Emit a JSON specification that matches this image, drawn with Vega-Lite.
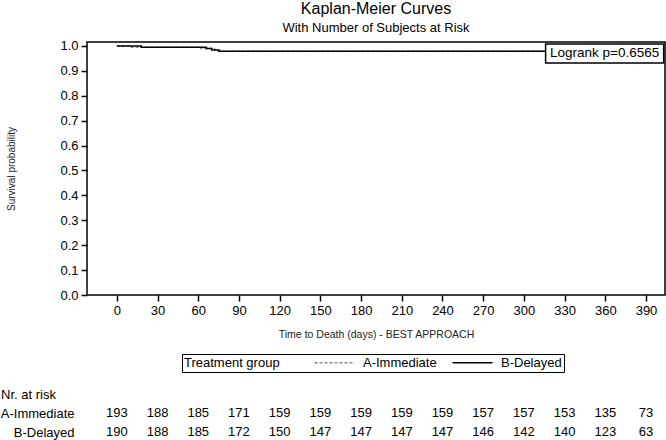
{
  "$schema": "https://vega.github.io/schema/vega-lite/v6.json",
  "background": "white",
  "padding": 0,
  "bounds": "flush",
  "spacing": 108.5,
  "config": {
    "font": "Liberation Sans",
    "view": {"stroke": "black", "strokeWidth": 1.5},
    "axis": {"labelFont": "Liberation Sans", "titleFont": "Liberation Sans", "labelColor": "black", "tickColor": "black"}
  },
  "datasets": {
    "km": [
      {"group": "A-Immediate", "day": 0, "surv": 1.0},
      {"group": "A-Immediate", "day": 9, "surv": 0.9948},
      {"group": "A-Immediate", "day": 62, "surv": 0.9896},
      {"group": "A-Immediate", "day": 72, "surv": 0.9843},
      {"group": "A-Immediate", "day": 76, "surv": 0.979},
      {"group": "A-Immediate", "day": 402, "surv": 0.979},
      {"group": "B-Delayed", "day": 0, "surv": 1.0},
      {"group": "B-Delayed", "day": 18, "surv": 0.9947},
      {"group": "B-Delayed", "day": 66, "surv": 0.9895},
      {"group": "B-Delayed", "day": 70, "surv": 0.9842},
      {"group": "B-Delayed", "day": 75, "surv": 0.979},
      {"group": "B-Delayed", "day": 402, "surv": 0.979}
    ],
    "risk": [
      {"group": "A-Immediate", "day": 0, "n": 193},
      {"group": "A-Immediate", "day": 30, "n": 188},
      {"group": "A-Immediate", "day": 60, "n": 185},
      {"group": "A-Immediate", "day": 90, "n": 171},
      {"group": "A-Immediate", "day": 120, "n": 159},
      {"group": "A-Immediate", "day": 150, "n": 159},
      {"group": "A-Immediate", "day": 180, "n": 159},
      {"group": "A-Immediate", "day": 210, "n": 159},
      {"group": "A-Immediate", "day": 240, "n": 159},
      {"group": "A-Immediate", "day": 270, "n": 157},
      {"group": "A-Immediate", "day": 300, "n": 157},
      {"group": "A-Immediate", "day": 330, "n": 153},
      {"group": "A-Immediate", "day": 360, "n": 135},
      {"group": "A-Immediate", "day": 390, "n": 73},
      {"group": "B-Delayed", "day": 0, "n": 190},
      {"group": "B-Delayed", "day": 30, "n": 188},
      {"group": "B-Delayed", "day": 60, "n": 185},
      {"group": "B-Delayed", "day": 90, "n": 172},
      {"group": "B-Delayed", "day": 120, "n": 150},
      {"group": "B-Delayed", "day": 150, "n": 147},
      {"group": "B-Delayed", "day": 180, "n": 147},
      {"group": "B-Delayed", "day": 210, "n": 147},
      {"group": "B-Delayed", "day": 240, "n": 147},
      {"group": "B-Delayed", "day": 270, "n": 146},
      {"group": "B-Delayed", "day": 300, "n": 142},
      {"group": "B-Delayed", "day": 330, "n": 140},
      {"group": "B-Delayed", "day": 360, "n": 123},
      {"group": "B-Delayed", "day": 390, "n": 63}
    ],
    "logrank": [
      {"x1": 316, "x2": 403, "y1": 1.008, "y2": 0.932, "xm": 359.5, "ym": 0.97, "label": "Logrank p=0.6565"}
    ]
  },
  "vconcat": [
    {
      "width": 578,
      "height": 253,
      "title": {
        "text": "Kaplan-Meier Curves",
        "subtitle": "With Number of Subjects at Risk",
        "anchor": "middle",
        "frame": "group",
        "font": "Liberation Sans",
        "fontSize": 16,
        "fontWeight": "normal",
        "subtitleFont": "Liberation Sans",
        "subtitleFontSize": 13,
        "subtitleColor": "black",
        "subtitlePadding": 5,
        "offset": 5
      },
      "layer": [
        {
          "data": {"name": "km"},
          "mark": {"type": "line", "interpolate": "step-after", "strokeWidth": 1.5, "clip": true},
          "encoding": {
            "x": {
              "field": "day", "type": "quantitative",
              "scale": {"domain": [-22, 404], "nice": false, "zero": false},
              "axis": {
                "title": "Time to Death (days) - BEST APPROACH",
                "values": [0, 30, 60, 90, 120, 150, 180, 210, 240, 270, 300, 330, 360, 390],
                "domain": false, "grid": false, "tickSize": 6, "tickWidth": 1.5,
                "labelFontSize": 13, "labelPadding": 3, "labelOverlap": false,
                "titleFontSize": 10.5, "titleFontWeight": "normal", "titleColor": "#222", "titlePadding": 12
              }
            },
            "y": {
              "field": "surv", "type": "quantitative",
              "scale": {"domain": [0, 1.016], "nice": false},
              "axis": {
                "title": "Survival probability",
                "values": [0, 0.1, 0.2, 0.3, 0.4, 0.5, 0.6, 0.7, 0.8, 0.9, 1.0],
                "format": ".1f",
                "domain": false, "grid": false, "tickSize": 6, "tickWidth": 1.5,
                "labelFontSize": 13, "labelPadding": 3, "labelOverlap": false, "labelBound": false,
                "titleFontSize": 10, "titleFontWeight": "normal", "titleColor": "#222", "titlePadding": 43
              }
            },
            "color": {
              "field": "group", "type": "nominal",
              "scale": {"domain": ["A-Immediate", "B-Delayed"], "range": ["#888888", "black"]},
              "legend": {
                "title": "Treatment group",
                "orient": "none",
                "legendX": 95,
                "legendY": 312,
                "direction": "horizontal",
                "titleOrient": "left",
                "titleFontSize": 13,
                "titleFontWeight": "normal",
                "titleColor": "black",
                "titleBaseline": "middle",
                "titlePadding": 48,
                "labelFontSize": 13,
                "labelColor": "black",
                "symbolType": "M-4,0H4",
                "symbolSize": 100,
                "symbolStrokeWidth": 1.5,
                "labelOffset": 22,
                "columnPadding": 12,
                "strokeColor": "black",
                "padding": 2
              }
            },
            "strokeDash": {
              "field": "group", "type": "nominal",
              "scale": {"domain": ["A-Immediate", "B-Delayed"], "range": [[3, 2], [1, 0]]},
              "legend": null
            }
          }
        },
        {
          "data": {"name": "logrank"},
          "mark": {"type": "rect", "fill": "white", "stroke": "black", "strokeWidth": 1.5},
          "encoding": {
            "x": {"field": "x1", "type": "quantitative"},
            "x2": {"field": "x2"},
            "y": {
              "field": "y1", "type": "quantitative",
              "axis": {
                "title": "Survival probability",
                "values": [0, 0.1, 0.2, 0.3, 0.4, 0.5, 0.6, 0.7, 0.8, 0.9, 1.0],
                "format": ".1f",
                "domain": false, "grid": false, "tickSize": 6, "tickWidth": 1.5,
                "labelFontSize": 13, "labelPadding": 3, "labelOverlap": false, "labelBound": false,
                "titleFontSize": 10, "titleFontWeight": "normal", "titleColor": "#222", "titlePadding": 43
              }
            },
            "y2": {"field": "y2"}
          }
        },
        {
          "data": {"name": "logrank"},
          "mark": {"type": "text", "fontSize": 13.5, "font": "Liberation Sans", "color": "black"},
          "encoding": {
            "x": {"field": "xm", "type": "quantitative"},
            "y": {
              "field": "ym", "type": "quantitative",
              "axis": {
                "title": "Survival probability",
                "values": [0, 0.1, 0.2, 0.3, 0.4, 0.5, 0.6, 0.7, 0.8, 0.9, 1.0],
                "format": ".1f",
                "domain": false, "grid": false, "tickSize": 6, "tickWidth": 1.5,
                "labelFontSize": 13, "labelPadding": 3, "labelOverlap": false, "labelBound": false,
                "titleFontSize": 10, "titleFontWeight": "normal", "titleColor": "#222", "titlePadding": 43
              }
            },
            "text": {"field": "label"}
          }
        }
      ]
    },
    {
      "width": 578,
      "height": 38,
      "view": {"stroke": null},
      "title": {
        "text": "Nr. at risk",
        "anchor": "start",
        "frame": "group",
        "dx": -86,
        "font": "Liberation Sans",
        "fontSize": 13,
        "fontWeight": "normal",
        "offset": 2
      },
      "data": {"name": "risk"},
      "mark": {"type": "text", "fontSize": 13, "font": "Liberation Sans", "color": "black"},
      "encoding": {
        "x": {
          "field": "day", "type": "quantitative",
          "scale": {"domain": [-22, 404], "nice": false, "zero": false},
          "axis": null
        },
        "y": {
          "field": "group", "type": "nominal",
          "sort": ["A-Immediate", "B-Delayed"],
          "axis": {
            "title": null, "domain": false, "ticks": false,
            "labelFontSize": 13, "labelPadding": 13, "labelColor": "black"
          }
        },
        "text": {"field": "n", "type": "quantitative"}
      }
    }
  ]
}
